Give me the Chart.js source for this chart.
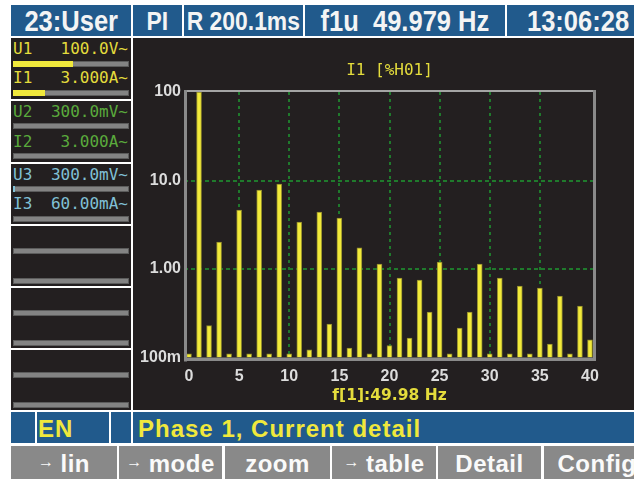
<!DOCTYPE html>
<html>
<head>
<meta charset="utf-8">
<script src="https://cdn.jsdelivr.net/npm/chart.js@4.4.1/dist/chart.umd.min.js"></script>
<style>
  html, body { margin: 0; padding: 0; background: #fff; }
  body { width: 634px; height: 479px; position: relative; overflow: hidden; font-family: "Liberation Sans", Arial, sans-serif; }
  .cell { position: absolute; box-sizing: border-box; display: flex; align-items: center; white-space: nowrap; font-weight: bold; }
  .head { top: 5px; height: 31px; background: #215a8c; color: #f4f4f4; font-size: 29px; justify-content: center; padding-top: 2px; }
  .head span { display: inline-block; transform: scaleX(0.88); }
  .status { top: 412px; height: 31px; background: #215a8c; color: #f0e83c; font-size: 24px; letter-spacing: 1px; padding-top: 3px; }
  .btn { top: 446px; height: 33px; background: #898989; color: #fafafa; font-size: 24px; letter-spacing: 0.5px; justify-content: center; padding-top: 3px; }
  .btn .arr { font-size: 16px; margin-right: 6px; position: relative; top: -2px; }
  .box { position: absolute; left: 11px; width: 120px; background: #231f20; }
  .txt { position: absolute; left: 2px; right: 3px; height: 16px; font: 16px/16px "DejaVu Sans Mono", monospace; display: flex; justify-content: space-between; }
  .bar { position: absolute; left: 2px; width: 116px; height: 6px; background: #838383; box-shadow: inset 0 0 0 1px #5c5c5c; overflow: hidden; }
  .fill { position: absolute; left: 0; top: 0; bottom: 0; }
  .ch1 { color: #e4dc3c; }
  .ch2 { color: #5aaa3c; }
  .ch3 { color: #80c0d6; }
  #plot { position: absolute; left: 133px; top: 38px; width: 501px; height: 372px; background: #231f20; }
</style>
</head>
<body>

<!-- header line -->
<div class="cell head" style="left:11px;width:120px;"><span>23:User</span></div>
<div class="cell head" style="left:133px;width:49px;font-size:26px;"><span>PI</span></div>
<div class="cell head" style="left:184px;width:119px;font-size:26px;"><span>R 200.1ms</span></div>
<div class="cell head" style="left:305px;width:200px;"><span>f1u&nbsp;&nbsp;49.979 Hz</span></div>
<div class="cell head" style="left:507px;width:143px;"><span>13:06:28</span></div>

<!-- channel ranges -->
<div class="box" style="top:38px;height:61px;">
  <div class="txt ch1" style="top:3px;"><span>U1</span><span>100.0V~</span></div>
  <div class="bar" style="top:23px;"><div class="fill" style="width:60px;background:#f0e83c;"></div></div>
  <div class="txt ch1" style="top:32px;"><span>I1</span><span>3.000A~</span></div>
  <div class="bar" style="top:52px;"><div class="fill" style="width:32px;background:#f0e83c;"></div></div>
</div>
<div class="box" style="top:101px;height:61px;">
  <div class="txt ch2" style="top:3px;"><span>U2</span><span>300.0mV~</span></div>
  <div class="bar" style="top:22px;"></div>
  <div class="txt ch2" style="top:33px;"><span>I2</span><span>3.000A~</span></div>
  <div class="bar" style="top:52px;"></div>
</div>
<div class="box" style="top:164px;height:60px;">
  <div class="txt ch3" style="top:3px;"><span>U3</span><span>300.0mV~</span></div>
  <div class="bar" style="top:22px;"><div class="fill" style="width:2px;background:#80c0d6;"></div></div>
  <div class="txt ch3" style="top:32px;"><span>I3</span><span>60.00mA~</span></div>
  <div class="bar" style="top:52px;"></div>
</div>
<div class="box" style="top:226px;height:60px;">
  <div class="bar" style="top:22px;"></div>
  <div class="bar" style="top:52px;"></div>
</div>
<div class="box" style="top:288px;height:60px;">
  <div class="bar" style="top:22px;"></div>
  <div class="bar" style="top:52px;"></div>
</div>
<div class="box" style="top:350px;height:60px;">
  <div class="bar" style="top:22px;"></div>
  <div class="bar" style="top:52px;"></div>
</div>

<div id="plot"><canvas id="harm" width="501" height="372"></canvas></div>

<!-- status line -->
<div class="cell status" style="left:11px;width:24px;"></div>
<div class="cell status" style="left:37px;width:72px;padding-left:1px;">EN</div>
<div class="cell status" style="left:111px;width:20px;"></div>
<div class="cell status" style="left:133px;width:501px;padding-left:5px;">Phase 1, Current detail</div>

<!-- soft keys -->
<div class="cell btn" style="left:11px;width:106px;"><span class="arr">&rarr;</span>lin</div>
<div class="cell btn" style="left:119px;width:103px;"><span class="arr">&rarr;</span>mode</div>
<div class="cell btn" style="left:225px;width:105px;">zoom</div>
<div class="cell btn" style="left:332px;width:104px;"><span class="arr">&rarr;</span>table</div>
<div class="cell btn" style="left:438px;width:103px;">Detail</div>
<div class="cell btn" style="left:544px;width:106px;">Config</div>

<script>
// harmonic order 0..40, I1 content in % of H01
const harmonicOrders = ['0', '1', '2', '3', '4', '5', '6', '7', '8', '9', '10',
  '11', '12', '13', '14', '15', '16', '17', '18', '19', '20',
  '21', '22', '23', '24', '25', '26', '27', '28', '29', '30',
  '31', '32', '33', '34', '35', '36', '37', '38', '39', '40'];

const i1Percent = [0.11, 100, 0.229, 2.02, 0.11, 4.64, 0.11, 7.8, 0.11, 9.1, 0.11,
  3.4, 0.122, 4.4, 0.239, 3.77, 0.128, 1.73, 0.11, 1.14, 0.136,
  0.79, 0.166, 0.75, 0.327, 1.2, 0.11, 0.215, 0.327, 1.14, 0.11,
  0.79, 0.11, 0.64, 0.11, 0.61, 0.142, 0.495, 0.11, 0.38, 0.158];

const yTickValues = [0.1, 1, 10, 100];
const yTickLabels = ['100m', '1.00', '10.0', '100'];

const gridGreen = '#1f7a2c';
const tickFont = { family: 'Liberation Sans', size: 16, weight: 'bold' };

// grey frame round the plot area
const framePlugin = {
  id: 'frame',
  afterDatasetsDraw(chart) {
    const { ctx, chartArea: { left, right, top, bottom } } = chart;
    ctx.save();
    ctx.fillStyle = '#a4a4a4';
    ctx.fillRect(left, top - 2, right - left, 2);
    ctx.fillStyle = '#8a8a8a';
    ctx.fillRect(left, top - 2, 3, bottom - top + 6);
    ctx.fillRect(left, bottom, right - left + 1, 3.5);
    ctx.fillRect(right - 2, top - 2, 3, bottom - top + 5.5);
    ctx.restore();
  }
};

new Chart(document.getElementById('harm'), {
  type: 'bar',
  data: {
    labels: harmonicOrders,
    datasets: [{
      data: i1Percent,
      backgroundColor: '#f2ea3a',
      borderColor: '#8f8a2c',
      borderWidth: 1,
      borderSkipped: 'start',
      barThickness: 5
    }]
  },
  options: {
    responsive: false,
    animation: false,
    layout: { padding: { left: 0, right: 39, top: 0, bottom: 0 } },
    plugins: {
      legend: { display: false },
      tooltip: { enabled: false },
      title: {
        display: true,
        text: 'I1 [%H01]',
        color: '#e4dc3c',
        fullSize: false,
        font: { family: 'DejaVu Sans Mono', size: 16, weight: 'normal' },
        padding: { top: 23.4, bottom: 11.4 }
      }
    },
    scales: {
      x: {
        grid: {
          offset: false,
          drawTicks: false,
          lineWidth: 2,
          color: (c) => (c.index % 5 === 0 && c.index > 0 && c.index < 40) ? gridGreen : 'transparent'
        },
        border: { display: false, dash: [3, 4] },
        ticks: {
          autoSkip: false,
          maxRotation: 0,
          padding: 9.5,
          color: '#dcdcdc',
          font: tickFont,
          callback: (v, i) => (i % 5 === 0 ? harmonicOrders[i] : '')
        },
        title: {
          display: true,
          text: 'f[1]:49.98 Hz',
          color: '#e4dc3c',
          font: { family: 'DejaVu Sans', size: 15.5, weight: 'bold' },
          padding: { top: 0, bottom: 4.7 }
        },
        afterFit: (s) => { s.height = 52.5; }
      },
      y: {
        type: 'logarithmic',
        min: 0.1,
        max: 100,
        afterBuildTicks: (s) => { s.ticks = yTickValues.map((v) => ({ value: v })); },
        grid: {
          drawTicks: false,
          lineWidth: 2,
          color: (c) => (c.tick && (c.tick.value === 1 || c.tick.value === 10)) ? gridGreen : 'transparent'
        },
        border: { display: false, dash: [4, 3] },
        ticks: {
          padding: 3,
          color: '#dcdcdc',
          font: tickFont,
          callback: (v) => yTickLabels[yTickValues.indexOf(v)]
        },
        afterFit: (s) => { s.width = 51; }
      }
    }
  },
  plugins: [framePlugin]
});
</script>
</body>
</html>
